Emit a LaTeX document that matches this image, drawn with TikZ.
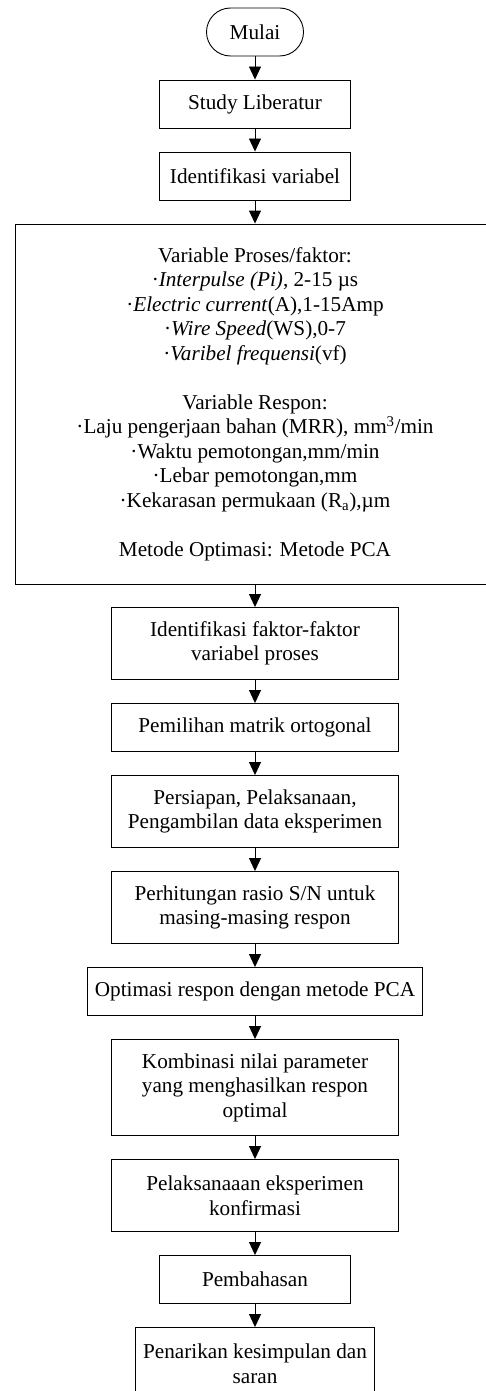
\documentclass[tikz,border=0pt]{standalone}
\usepackage{fontspec}
\setmainfont{Liberation Serif}
\usetikzlibrary{arrows.meta}
\tikzset{
  box/.style={draw, line width=0.9pt, rectangle, inner sep=0pt, align=center,
    font=\fontsize{21.2}{24.5}\selectfont},
  term/.style={box, rounded corners=24pt},
  arr/.style={draw, line width=0.9pt, -{Triangle[length=13pt,width=12pt]}}
}
\begin{document}
\begin{tikzpicture}[x=1pt,y=-1pt]
\useasboundingbox (0,0) rectangle (486,1391);
\clip (0,0) rectangle (486,1391);
\fill[white] (0,0) rectangle (486,1391);
\node[term, minimum width=97pt, minimum height=48pt] (mulai) at (255,32) {Mulai};
\node[box, minimum width=191pt, minimum height=48pt] (study) at (255,104) {Study Liberatur};
\node[box, minimum width=191pt, minimum height=48pt] (idvar) at (255,176) {Identifikasi variabel};
\node[box, minimum width=480pt, minimum height=360pt] (big) at (255,404) {%
Variable Proses/faktor:\\
·\textit{Interpulse (Pi)}, 2-15 µs\\
·\textit{Electric current}(A),1-15Amp\\
·\textit{Wire Speed}(WS),0-7\\
·\textit{Varibel frequensi}(vf)\\[24.5pt]
Variable Respon:\\
·Laju pengerjaan bahan (MRR), mm\textsuperscript{3}/min\\
·Waktu pemotongan,mm/min\\
·Lebar pemotongan,mm\\
·Kekarasan permukaan (R\textsubscript{a}),µm\\[24.5pt]
Metode Optimasi: Metode PCA};
\node[box, minimum width=287pt, minimum height=72pt] (idfak) at (255,643.5) {Identifikasi faktor-faktor\\variabel proses};
\node[box, minimum width=287pt, minimum height=48pt] (pemilihan) at (255,727.5) {Pemilihan matrik ortogonal};
\node[box, minimum width=287pt, minimum height=72pt] (persiapan) at (255,811.5) {Persiapan, Pelaksanaan,\\Pengambilan data eksperimen};
\node[box, minimum width=287pt, minimum height=72pt] (perhitungan) at (255,907.5) {Perhitungan rasio S/N untuk\\masing-masing respon};
\node[box, minimum width=335pt, minimum height=48pt] (optimasi) at (255,991.5) {Optimasi respon dengan metode PCA};
\node[box, minimum width=287pt, minimum height=96pt] (kombinasi) at (255,1087.5) {Kombinasi nilai parameter\\yang menghasilkan respon\\optimal};
\node[box, minimum width=287pt, minimum height=72pt] (pelaksanaan) at (255,1195.5) {Pelaksanaaan eksperimen\\konfirmasi};
\node[box, minimum width=191pt, minimum height=48pt] (pembahasan) at (255,1279.5) {Pembahasan};
\node[box, minimum width=239pt, minimum height=72pt] (penarikan) at (255,1363.5) {Penarikan kesimpulan dan\\saran};
\draw[arr] (mulai) -- (study);
\draw[arr] (study) -- (idvar);
\draw[arr] (idvar) -- (big);
\draw[arr] (big) -- (idfak);
\draw[arr] (idfak) -- (pemilihan);
\draw[arr] (pemilihan) -- (persiapan);
\draw[arr] (persiapan) -- (perhitungan);
\draw[arr] (perhitungan) -- (optimasi);
\draw[arr] (optimasi) -- (kombinasi);
\draw[arr] (kombinasi) -- (pelaksanaan);
\draw[arr] (pelaksanaan) -- (pembahasan);
\draw[arr] (pembahasan) -- (penarikan);
\end{tikzpicture}
\end{document}
